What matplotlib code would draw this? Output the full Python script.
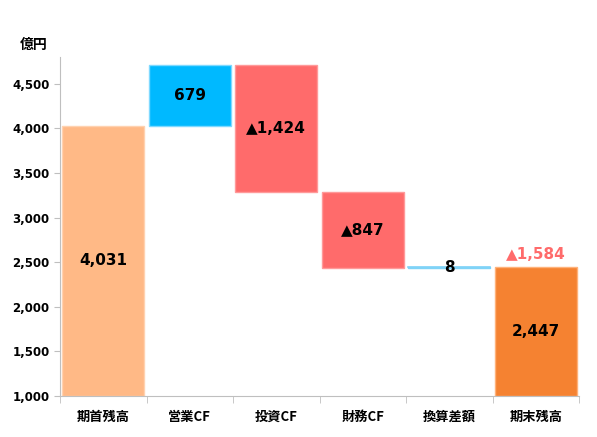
import numpy as np
import matplotlib.pyplot as plt

plt.rcParams['font.family'] = ['DejaVu Sans', 'Noto Sans CJK JP']

categories = ["期首残高", "営業CF", "投資CF", "財務CF", "換算差額", "期末残高"]
start_value = 4031
changes = [679, -1424, -847, 8]
end_value = 2447
bar_labels = ["4,031", "679", "▲1,424", "▲847", "8", "2,447"]
total_change_label = "▲1,584"

fill_colors = ["#FFB986", "#00B9FF", "#FF6B6B", "#FF6B6B", "#00B9FF", "#F58231"]
edge_colors = ["#FFD2B0", "#7FD9FF", "#FF9A9A", "#FF9A9A", "#7FD3F7", "#FFB27A"]

base_line = 1000

# running totals for the floating bars
bottoms = [base_line]
heights = [start_value - base_line]
level = start_value
for c in changes:
    lo = min(level, level + c)
    bottoms.append(lo)
    heights.append(abs(c))
    level += c
bottoms.append(base_line)
heights.append(end_value - base_line)

fig = plt.figure(figsize=(5.97, 4.37), dpi=100)
ax = fig.add_axes([0.1005, 0.0938, 0.8695, 0.7758])

x = np.arange(len(categories))
ax.bar(x, heights, bottom=bottoms, width=0.95, color=fill_colors,
       edgecolor=edge_colors, linewidth=1.0, zorder=2)

# the tiny 換算差額 bar shows as a thin line
ax.plot([x[4] - 0.475, x[4] + 0.475], [bottoms[4] + heights[4]] * 2,
        color="#7FD3F7", lw=1.2, zorder=3)

for i in range(len(categories)):
    ypos = bottoms[i] + heights[i] / 2
    ax.text(x[i], ypos, bar_labels[i], ha="center", va="center",
            fontsize=11, fontweight="bold", color="black", zorder=4)

ax.text(x[5], end_value + 60, total_change_label, ha="center", va="bottom",
        fontsize=11, fontweight="bold", color="#FF6B6B")

ax.set_xlim(-0.5, len(categories) - 0.5)
ax.set_ylim(1000, 4800)
ax.set_yticks(np.arange(1000, 4501, 500))
ax.set_yticklabels([f"{v:,}" for v in range(1000, 4501, 500)],
                   fontsize=8.5, fontweight="bold")

ax.set_xticks(x)
ax.set_xticklabels(categories, fontsize=9.5, fontweight="bold",
                   family=['Noto Sans CJK JP', 'DejaVu Sans'])
ax.tick_params(axis="x", length=0, pad=10)
ax.set_xticks(np.arange(-0.5, len(categories)), minor=True)
ax.tick_params(axis="x", which="minor", length=5, color="#BFBFBF")
ax.tick_params(axis="y", length=4, color="#BFBFBF")

for s in ["top", "right"]:
    ax.spines[s].set_visible(False)
ax.spines["left"].set_color("#BFBFBF")
ax.spines["bottom"].set_color("#BFBFBF")

fig.text(0.057, 0.888, "億円", fontsize=10, fontweight="bold", ha="center",
         family=['Noto Sans CJK JP', 'DejaVu Sans'])

fig.savefig("out.png", dpi=100)
